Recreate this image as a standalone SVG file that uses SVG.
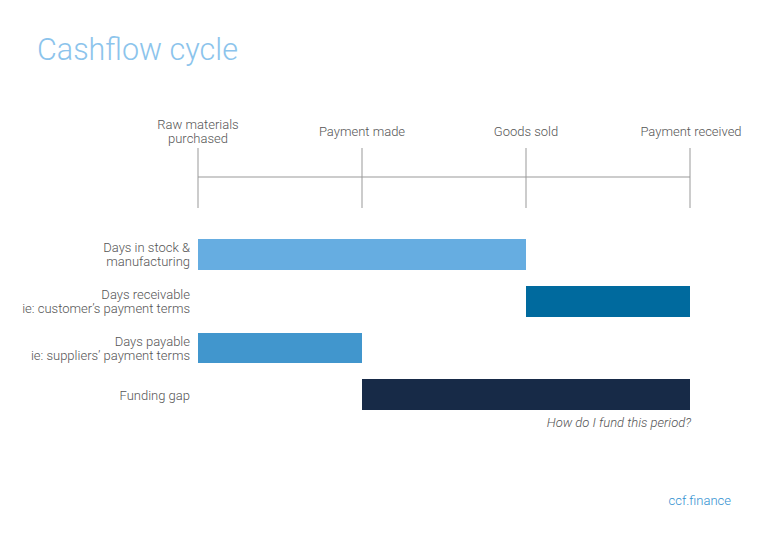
<svg xmlns="http://www.w3.org/2000/svg" width="768" height="541" viewBox="0 0 768 541">
<style>
text{font-family:Roboto,"Liberation Sans",sans-serif;font-weight:300;fill:#555;font-size:13px}
.r{text-anchor:end}.m{text-anchor:middle}
.ln{stroke:#999;stroke-width:1;fill:none}
</style>
<rect width="768" height="541" fill="#fff"/>
<text x="37" y="60" style="font-size:30.5px;fill:#8cc4ec">Cashflow cycle</text>
<g id="axis">
<g id="connectors">
<line class="ln" x1="198" y1="177" x2="690" y2="177"/>
<line class="ln" x1="198" y1="148" x2="198" y2="208"/>
<line class="ln" x1="362" y1="148" x2="362" y2="208"/>
<line class="ln" x1="526" y1="148" x2="526" y2="208"/>
<line class="ln" x1="690" y1="148" x2="690" y2="208"/>
</g>
<text class="m" x="198" y="129">Raw materials</text>
<text class="m" x="198" y="143">purchased</text>
<text class="m" x="362" y="136">Payment made</text>
<text class="m" x="526" y="136">Goods sold</text>
<text class="m" x="691" y="136">Payment received</text>
</g>
<g id="stock"><rect x="198" y="239" width="328" height="31" fill="#66ade1"/>
<text class="r" x="190" y="252">Days in stock &amp;</text><text class="r" x="190" y="266">manufacturing</text></g>
<g id="receivable"><rect x="526" y="286" width="164" height="31" fill="#006a9e"/>
<text class="r" x="190" y="299">Days receivable</text><text class="r" x="190" y="313">ie: customer’s payment terms</text></g>
<g id="payable"><rect x="198" y="333" width="164" height="30" fill="#4196cd"/>
<text class="r" x="190" y="346">Days payable</text><text class="r" x="190" y="360">ie: suppliers’ payment terms</text></g>
<g id="gap"><rect x="362" y="379" width="328" height="31" fill="#172a47"/>
<text class="r" x="190" y="400">Funding gap</text>
<text class="r" x="691" y="427" style="font-style:italic">How do I fund this period?</text></g>
<text class="r" x="731" y="505" style="fill:#2f8fd0">ccf.finance</text>
</svg>
